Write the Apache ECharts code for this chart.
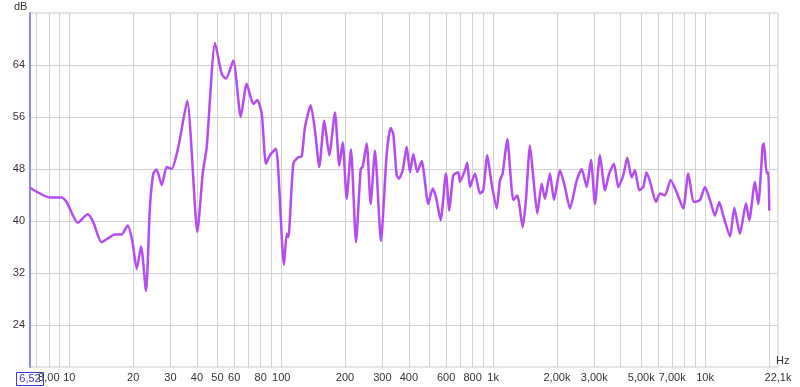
<!DOCTYPE html>
<html><head><meta charset="utf-8">
<script src="https://cdn.jsdelivr.net/npm/echarts@6/dist/echarts.min.js"></script>
<style>html,body{margin:0;padding:0;background:#fff}#c{width:800px;height:387px}</style>
</head><body><div id="c"></div>
<script>
// Frequency response (Hz, dB)
const freqHz = [6.52,8.10,9.20,9.71,10.95,12.2,12.97,14.2,16.4,17.66,18.85,19.8,20.8,21.8,23.0,24.0,24.9,25.8,27.3,28.8,30.4,32.7,36.0,
  40.2,42.6,44.5,48.7,52.4,54.9,59.4,64.4,68.7,73.8,77.1,80.9,84.7,88.5,94.4,96.8,103.0,106.1,108.0,114.0,120.3,124.9,129.4,137.7,144.3,151.2,159.6,168.5,179.3,187.9,
  195.0,203.6,213.4,225.3,237.1,242.3,253.1,264.2,276.9,295.5,314.5,328.5,337.9,350.6,359.5,374.3,390.8,405.1,419.9,438.5,459.9,494.2,518.3,537.3,565.4,598.9,620.9,648.4,684.6,697.5,736.4,755.0,777.6,820.9,866.7,898.4,938.4,984.2,
  1039,1077,1109,1166,1245,1300,1379,1428,1492,1547,1616,1694,1756,1854,1937,2067,2183,2304,2479,2617,2764,2895,3024,3193,3372,3532,3717,3895,4112,4295,4505,4670,4893,
  5110,5302,5538,5866,6127,6470,6883,7347,7893,8333,8867,9465,9993,10550,11140,11670,12190,13120,13740,14610,15610,16170,17200,17840,18710,18970,19540,19880,20100];
const levelDb = [45.1,43.6,43.6,42.9,39.7,41.0,39.8,36.7,37.9,37.9,39.3,37.0,32.6,36.1,29.2,42.1,47.3,47.9,45.5,48.3,48.0,51.4,58.5,
  38.3,47.3,51.4,67.4,62.6,61.9,64.7,56.0,61.1,58.0,58.6,56.5,48.8,50.1,51.1,47.8,33.2,38.0,37.5,48.8,49.8,49.9,54.4,57.8,53.9,48.3,55.4,50.1,56.7,48.5,
  52.1,43.4,51.0,36.7,48.0,48.3,51.9,42.6,50.8,36.9,50.3,54.3,53.4,47.0,46.5,47.8,51.4,47.5,50.3,47.5,49.2,42.6,45.0,43.7,40.1,47.3,41.6,47.0,47.5,46.0,47.8,49.0,45.2,47.3,44.2,44.7,50.1,45.7,
  41.9,46.2,47.3,52.6,43.2,43.9,39.0,43.2,51.6,46.7,41.1,45.7,43.4,47.3,43.2,47.8,45.2,41.9,46.2,48.0,45.2,49.4,42.6,50.1,44.7,47.3,48.8,45.2,47.0,49.7,46.7,47.8,44.7,
  45.2,47.5,45.7,42.9,44.2,43.9,46.3,44.4,41.9,47.3,42.9,43.2,45.2,43.2,40.8,42.9,40.8,37.6,42.0,38.0,42.7,40.1,46.0,42.6,51.6,51.9,47.3,47.5,41.6];

const yTicks = [24,32,40,48,56,64];
const xGridValues = [7,8,9,10,20,30,40,50,60,70,80,90,100,200,300,400,500,600,700,800,900,1000,2000,3000,4000,5000,6000,7000,8000,9000,10000,20000];
const xLabelValues = [8,10,20,30,40,50,60,80,100,200,300,400,600,800,1000,2000,3000,5000,7000,10000,22100];
const xLabelTexts = ['8,00','10','20','30','40','50','60','80','100','200','300','400','600','800','1k','2,00k','3,00k','5,00k','7,00k','10k','22,1k'];
const xMin = 6.52, xMax = 22100, yMin = 17.5, yMax = 72;

const chart = echarts.init(document.getElementById('c'), null, {renderer: 'canvas'});
const font = 'Liberation Sans, Arial, sans-serif';
function xLabel(v) {
  for (let i = 0; i < xLabelValues.length; i++) {
    if (Math.abs(v - xLabelValues[i]) / xLabelValues[i] < 1e-3) return xLabelTexts[i];
  }
  return '';
}
chart.setOption({
  animation: false,
  backgroundColor: '#ffffff',
  grid: {left: 30, right: 22, top: 13, bottom: 20, show: true, borderColor: '#cccccc', borderWidth: 1},
  xAxis: {
    type: 'log', logBase: 10, min: xMin, max: xMax,
    axisLine: {show: false},
    axisTick: {show: false, customValues: xGridValues},
    axisLabel: {customValues: xLabelValues, formatter: xLabel, color: '#333', fontSize: 11, fontFamily: font, margin: 5, showMinLabel: true, showMaxLabel: true, hideOverlap: false},
    splitLine: {show: true, lineStyle: {color: '#d2d2d2', width: 1}}
  },
  yAxis: {
    type: 'value', min: yMin, max: yMax,
    axisLine: {show: true, lineStyle: {color: '#8a8ae8', width: 2}},
    axisTick: {show: false, customValues: yTicks},
    axisLabel: {customValues: yTicks, color: '#333', fontSize: 11, fontFamily: font, margin: 5},
    splitLine: {show: true, lineStyle: {color: '#d2d2d2', width: 1}}
  },
  graphic: [
    {type: 'text', left: 14, top: 1, style: {text: 'dB', font: '11px ' + font, fill: '#333'}},
    {type: 'text', left: 776, top: 355, style: {text: 'Hz', font: '11px ' + font, fill: '#333'}},
    {type: 'group', left: 16, top: 372, z: 100, children: [
      {type: 'rect', shape: {x: 0, y: 0, width: 27, height: 13}, style: {fill: '#fff', stroke: '#3a3ad0', lineWidth: 1}},
      {type: 'text', x: 13.5, y: 1, style: {text: '6,52', font: '11px ' + font, fill: '#3a3ad0', align: 'center'}}
    ]}
  ],
  series: [{
    type: 'line',
    data: freqHz.map((f, i) => [f, levelDb[i]]),
    showSymbol: false,
    smooth: 0.2,
    lineStyle: {color: '#b44cf0', width: 2.5},
    itemStyle: {color: '#b44cf0'}
  }]
});
</script></body></html>
